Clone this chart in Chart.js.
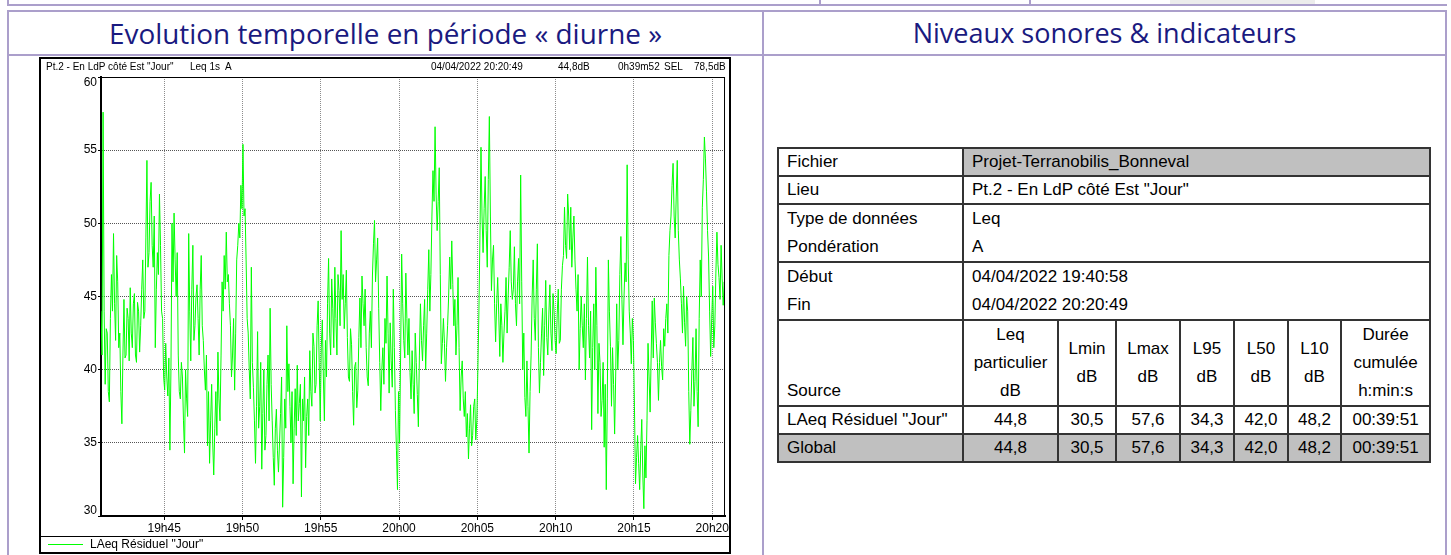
<!DOCTYPE html>
<html>
<head>
<meta charset="utf-8">
<script src="https://cdn.jsdelivr.net/npm/chart.js@4/dist/chart.umd.min.js"></script>
<style>
  body { margin: 0; width: 1451px; height: 555px; overflow: hidden; background: #fff; position: relative;
         font-family: "Liberation Sans", Arial, sans-serif; color: #000; }
  .lv { position: absolute; background: #ab9fcb; }
  .hdr { position: absolute; top: 11px; height: 44px; line-height: 44px; text-align: center;
         color: #1a1a80; font-family: "Open Sans", sans-serif; font-size: 25px; white-space: nowrap; }
  .hdr span { display: inline-block; }
  .cap { position: absolute; top: 61px; font-size: 10px; line-height: 12px; white-space: pre; }
  #box { position: absolute; left: 39px; top: 57px; width: 692px; height: 497px; box-sizing: border-box;
         border: 2px solid #000; pointer-events: none; }
  #chart { position: absolute; left: 40px; top: 58px; }
  #legSep { position: absolute; left: 41px; top: 536px; width: 688px; height: 1px; background: #000; }
  #legLine { position: absolute; left: 48px; top: 544px; width: 35px; height: 1px; background: #00ff00; }
  #legText { position: absolute; left: 90px; top: 537px; font-size: 12px; line-height: 15px; }
  table { position: absolute; left: 777px; top: 147px; border-collapse: collapse; table-layout: fixed;
          width: 652px; font-size: 17px; }
  td { border: 2px solid #333; padding: 0 8px; line-height: 26px; white-space: nowrap; overflow: hidden; }
  tr.m td { line-height: 28px; }
  td.c { text-align: center; padding: 0 2px; }
  .grey { background: #c0c0c0; }
</style>
</head>
<body>

<!-- bits of the table row above -->
<div class="lv" style="left:7px;top:4px;width:1440px;height:2px"></div>
<div class="lv" style="left:7px;top:0;width:2px;height:5px"></div>
<div class="lv" style="left:819px;top:0;width:2px;height:5px"></div>
<div class="lv" style="left:1029px;top:0;width:2px;height:5px"></div>
<div style="position:absolute;left:1170px;top:0;width:145px;height:4px;background:#ececec"></div>

<!-- frame of the two cells -->
<div class="lv" style="left:7px;top:10px;width:1440px;height:2px"></div>
<div class="lv" style="left:7px;top:54px;width:1440px;height:2px"></div>
<div class="lv" style="left:7px;top:10px;width:2px;height:545px"></div>
<div class="lv" style="left:762px;top:10px;width:2px;height:545px"></div>
<div class="lv" style="left:1445px;top:10px;width:2px;height:545px"></div>

<div class="hdr" style="left:9px;width:753px"><span data-w="553">Evolution temporelle en période « diurne »</span></div>
<div class="hdr" style="left:764px;width:681px"><span data-w="384">Niveaux sonores &amp; indicateurs</span></div>

<canvas id="chart" width="690" height="478"></canvas>
<div id="box"></div>
<div class="cap" style="left:46px">Pt.2 - En LdP côté Est "Jour"</div>
<div class="cap" style="left:190px">Leq 1s  A</div>
<div class="cap" style="left:431px">04/04/2022 20:20:49</div>
<div class="cap" style="left:558px">44,8dB</div>
<div class="cap" style="left:618px">0h39m52</div>
<div class="cap" style="left:664px">SEL</div>
<div class="cap" style="left:694px">78,5dB</div>
<div id="legSep"></div>
<div id="legLine"></div>
<div id="legText">LAeq Résiduel "Jour"</div>

<table id="stats"></table>

<script>
// measurement window
const startTime = '19:40:58';
const endTime = '20:20:49';
const sampleStepSec = 4;

// LAeq 1s, every 4 s (dB)
const levels = [
  44, 41, 57.6, 44, 39, 42.8, 42.5, 38.5, 37.8, 43.5,
  46.5, 44, 49.3, 44.5, 42, 47.8, 46, 41.5, 42.5, 38.5,
  36.3, 41, 44.8, 40.8, 41, 44.2, 43.5, 40.6, 45.6, 42.5,
  41.5, 44.5, 45.2, 41, 40.5, 44.6, 44, 41.2, 43, 45.5,
  47.5, 43.5, 44, 49, 54.3, 47, 48, 51.5, 52.8, 48.5,
  47, 50.5, 41.5, 45.5, 48, 46.5, 52, 48.5, 44, 43.5,
  39.5, 38.6, 41.8, 39.5, 38.2, 40.8, 34.5, 40, 50, 46,
  50.7, 47.5, 45, 48, 41, 38.5, 38, 40.5, 39.5, 36.5,
  34.3, 40, 38, 36.8, 49.3, 44, 40.6, 45.5, 48.5, 42,
  43, 45, 45.8, 43.5, 41, 45.5, 47.8, 43, 42, 40,
  38.6, 41, 34.8, 38.5, 33.6, 36.5, 39, 35, 32.8, 36,
  38.5, 35.5, 41.2, 38, 36.5, 41, 46, 44, 47.8, 45.5,
  49.4, 46, 46.5, 44.5, 43, 39.5, 41, 43.5, 38.6, 42.5,
  47.5, 48.5, 50, 49, 52.6, 51, 55.4, 50.5, 51, 47.5,
  43.5, 42.5, 40, 38, 47, 40.5, 38.8, 36.5, 33.6, 37.5,
  42.6, 36, 37.5, 40.5, 33.2, 37, 40, 34.5, 35.5, 39,
  41, 36.5, 44.2, 39, 36.5, 34, 32.1, 36, 37.3, 34.5,
  33, 35, 37, 39.5, 30.6, 34, 38, 36, 43, 38.5,
  40.4, 37.5, 35, 38.5, 32.2, 36, 38.7, 35.5, 40.3, 36.5,
  37.7, 39, 31.3, 38, 36.5, 39.5, 33.3, 36.8, 38, 35.5,
  41.3, 38.5, 37.5, 42.5, 41.6, 38.4, 39, 43, 44.7, 40.5,
  36.5, 41.5, 43.4, 39.5, 36.5, 42, 39.5, 44.5, 47.6, 42.5,
  41, 46.2, 44.2, 41.5, 47, 43.5, 41, 46.5, 45.4, 43,
  49.5, 44.8, 46.5, 42.8, 44.5, 46.8, 42.2, 39.5, 39.2, 42.8,
  41.7, 38.5, 36.2, 40.2, 40.5, 37.4, 38.6, 42.2, 44.9, 41.5,
  46.4, 44.5, 43, 45.5, 41.5, 39.5, 38.9, 42.5, 44, 41.5,
  46.4, 48.6, 50.2, 46, 47.5, 49, 44.2, 40.5, 37.2, 40,
  41.5, 39, 43.5, 41.8, 46.4, 42.5, 38.4, 43.2, 40.6, 38.8,
  45.5, 41.5, 37.2, 34.5, 31.8, 38.5, 35, 41, 47.9, 44.5,
  42, 40.8, 46.6, 43.5, 41, 43.5, 39.8, 38, 41.3, 39,
  37, 42.5, 40.5, 38.3, 36.1, 41, 44.5, 42, 40.6, 43,
  44.8, 40, 42.5, 45.5, 48.2, 44, 46.5, 50.5, 53.6, 51.5,
  56.6, 52, 49.5, 51.5, 53.8, 46.5, 40.4, 41.8, 43.5, 41.8,
  39.2, 41.5, 43, 45, 47.7, 45.5, 48.8, 45.8, 43, 44.8,
  41, 43, 46.3, 41.5, 37.2, 39.5, 40.6, 38, 36.8, 38.5,
  35.4, 37, 33.9, 36, 37.6, 34.8, 35.5, 37.5, 38, 35.2,
  36.5, 40, 44, 49.2, 55.2, 50.5, 48, 51, 53.2, 49.5,
  47, 53, 57.3, 50.5, 45.4, 47.5, 48.5, 44.5, 41.9, 44.5,
  46.3, 43.8, 40.9, 44.5, 43, 40.5, 42.5, 44, 46.3, 42.5,
  45, 47, 49.5, 46, 44.8, 45.5, 48.4, 44.5, 43, 46,
  47.6, 44.5, 53.3, 46, 40, 42.5, 38.1, 36.8, 40.6, 37.5,
  34.3, 38.5, 41, 45, 47.5, 43.5, 42, 45.5, 48.6, 41.5,
  38.4, 40.5, 42.5, 44.2, 39.6, 43, 46.1, 42.2, 41, 43.8,
  45.8, 42.5, 41.3, 45.2, 44, 42, 41.1, 43.8, 45.5, 41.8,
  42, 45.5, 47.1, 47.8, 51.1, 48.5, 47.6, 52, 50.5, 48.2,
  51.1, 47, 49, 50.5, 47.5, 45.5, 44, 46.5, 40, 42.8,
  45, 43, 41.5, 44.5, 39.3, 43.5, 47.7, 43, 40.8, 44,
  35.9, 41.5, 44.5, 40, 47, 43, 37, 41.8, 40.5, 36.8,
  37.9, 40.5, 34.7, 39, 31.8, 38, 47.5, 44, 41.6, 37.5,
  41.5, 39, 35.6, 39.5, 44.5, 40, 42, 46.5, 49.1, 44.8,
  41.7, 45, 47.3, 46, 54, 47.5, 44, 42.5, 40.4, 43.5,
  42, 37.5, 32.2, 34, 35.5, 33.6, 31.8, 34.5, 36.6, 32.8,
  30.5, 34.8, 32.6, 36.5, 41.8, 39.5, 37.1, 41, 44.7, 40.8,
  44.9, 43.2, 41.8, 40.5, 37.9, 40.5, 42, 40.2, 39.3, 42.8,
  41.6, 43.5, 44.5, 42.5, 47.8, 49.5, 50.5, 52.6, 54.1, 50.5,
  49, 51.8, 54.3, 49.5, 47.5, 46.2, 44.5, 42.5, 45.7, 43.2,
  41.6, 45, 44, 38.5, 34.9, 37.2, 40, 42.2, 37.5, 39.2,
  42.8, 38.5, 36.1, 43.5, 47.5, 45, 51.1, 53, 55.9, 54.4,
  52.2, 49.5, 47.7, 44, 40.9, 43.5, 45.7, 41.5, 43, 46.6,
  49.4, 47.2, 46.3, 44.8, 48.5, 46.2, 44.4, 46, 45
];

const xTickLabels = ['19h45', '19h50', '19h55', '20h00', '20h05', '20h10', '20h15', '20h20'];
const yTicks = [30, 35, 40, 45, 50, 55, 60];

// table on the right
const infoRows = [
  ['Fichier', 'Projet-Terranobilis_Bonneval'],
  ['Lieu', 'Pt.2 - En LdP côté Est "Jour"'],
  ['Type de données<br>Pondération', 'Leq<br>A'],
  ['Début<br>Fin', '04/04/2022 19:40:58<br>04/04/2022 20:20:49']
];
const statHeads = ['Source', 'Leq<br>particulier<br>dB', 'Lmin<br>dB', 'Lmax<br>dB', 'L95<br>dB', 'L50<br>dB', 'L10<br>dB', 'Durée<br>cumulée<br>h:min:s'];
const statRows = [
  ['LAeq Résiduel "Jour"', '44,8', '30,5', '57,6', '34,3', '42,0', '48,2', '00:39:51'],
  ['Global', '44,8', '30,5', '57,6', '34,3', '42,0', '48,2', '00:39:51']
];
const colWidths = [185, 95, 58, 64, 54, 54, 53, 89];


function toSec(s) {
    const p = s.split(/[:h]/).map(Number);
    return p[0] * 3600 + p[1] * 60 + (p[2] || 0);
}

// stretch the two headings to the width they have in the document
document.querySelectorAll('.hdr span').forEach(el => {
    const w = el.getBoundingClientRect().width;
    const fs = 25 * Number(el.dataset.w) / w;
    el.style.fontSize = Math.max(20, Math.min(29, fs)) + 'px';
});

const t0 = toSec(startTime);
const span = toSec(endTime) - t0;
const tickSecs = xTickLabels.map(l => toSec(l) - t0);
const points = levels.map((v, i) => ({ x: i * sampleStepSec, y: v }));

// build the table
let html = '<colgroup>' + colWidths.map(w => `<col style="width:${w}px">`).join('') + '</colgroup>';
infoRows.forEach((r, i) => {
    const multi = r[0].includes('<br>') ? ' class="m"' : '';
    html += `<tr${multi}><td>${r[0]}</td><td colspan="7"${i === 0 ? ' class="grey"' : ''}>${r[1]}</td></tr>`;
});
html += '<tr class="m">' + statHeads.map((h, i) => i === 0
    ? `<td style="vertical-align:bottom">${h}</td>`
    : `<td class="c">${h}</td>`).join('') + '</tr>';
statRows.forEach((r, i) => {
    const cls = i === statRows.length - 1 ? ' grey' : '';
    html += '<tr>' + r.map((c, j) => j === 0
        ? `<td class="${cls}">${c}</td>`
        : `<td class="c${cls}">${c}</td>`).join('') + '</tr>';
});
document.getElementById('stats').innerHTML = html;

// top/right frame of the plot + y labels kept inside the plot height
const framePlugin = {
    id: 'frame',
    afterDraw(chart) {
        const { ctx, chartArea: a, scales: { y } } = chart;
        ctx.save();
        ctx.strokeStyle = '#000';
        ctx.lineWidth = 1;
        ctx.beginPath();
        ctx.moveTo(a.left, a.top + 0.5);
        ctx.lineTo(a.right, a.top + 0.5);
        ctx.moveTo(a.right - 0.5, a.top);
        ctx.lineTo(a.right - 0.5, a.bottom);
        ctx.stroke();

        ctx.fillStyle = '#000';
        ctx.font = '12px "Liberation Sans", Arial';
        ctx.textAlign = 'right';
        ctx.textBaseline = 'middle';
        yTicks.forEach(v => {
            let py = y.getPixelForValue(v);
            py = Math.min(Math.max(py, a.top + 6), a.bottom - 5);
            ctx.fillText(String(v), a.left - 4, py);
        });
        ctx.restore();
    }
};

new Chart(document.getElementById('chart'), {
    type: 'line',
    data: {
        datasets: [{
            label: 'LAeq Résiduel "Jour"',
            data: points,
            borderColor: '#00ff00',
            borderWidth: 1,
            pointRadius: 0,
            tension: 0,
            fill: false
        }]
    },
    options: {
        responsive: false,
        animation: false,
        events: [],
        layout: { padding: { top: 19, right: 4, left: 0, bottom: 0 } },
        plugins: { legend: { display: false }, tooltip: { enabled: false } },
        scales: {
            x: {
                type: 'linear',
                min: 0,
                max: span,
                afterBuildTicks: s => { s.ticks = tickSecs.map(v => ({ value: v })); },
                afterFit: s => { s.height = 20; },
                ticks: {
                    autoSkip: false, maxRotation: 0, padding: 1, color: '#000',
                    font: { family: '"Liberation Sans", Arial', size: 12 },
                    callback: (v, i) => xTickLabels[i]
                },
                grid: { color: '#8c8c8c', tickLength: 4, tickColor: '#000' },
                border: { color: '#000', width: 2, dash: [1, 1] }
            },
            y: {
                min: 30,
                max: 60,
                afterBuildTicks: s => { s.ticks = yTicks.map(v => ({ value: v })); },
                afterFit: s => { s.width = 61; },
                ticks: { display: false },
                grid: { color: '#555', tickLength: 3, tickColor: '#000' },
                border: { color: '#000', width: 2, dash: [1, 1] }
            }
        }
    },
    plugins: [framePlugin]
});
</script>
</body>
</html>
